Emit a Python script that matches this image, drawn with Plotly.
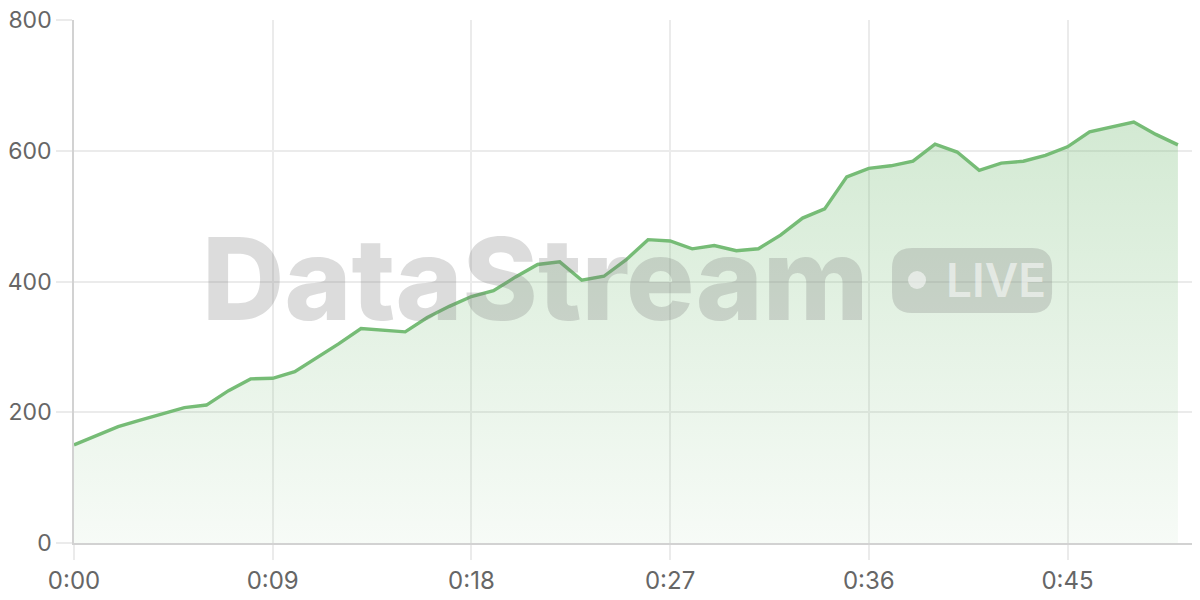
import plotly.graph_objects as go

# seconds since start, one sample per second
seconds = list(range(51))
values = [
    150, 164, 178, 188, 198, 207, 211, 233, 251, 252,
    262, 283, 305, 328, 325, 323, 345, 362, 377, 386,
    407, 426, 430, 402, 408, 433, 464, 462, 450, 455,
    447, 450, 471, 497, 511, 560, 573, 577, 584, 610,
    598, 570, 581, 584, 593, 606, 629, 637, 644, 625,
    609,
]
tick_vals = [0, 9, 18, 27, 36, 45]
tick_text = ["0:00", "0:09", "0:18", "0:27", "0:36", "0:45"]
y_ticks = [0, 200, 400, 600, 800]

GREEN = "rgb(118,188,118)"
GRID = "#ebebeb"
AXIS = "#d2d2d2"
WATERMARK = "rgba(120,120,120,0.26)"

fig = go.Figure(
    go.Scatter(
        x=seconds,
        y=values,
        mode="lines",
        line=dict(color=GREEN, width=3.4),
        fill="tozeroy",
        fillgradient=dict(
            type="vertical",
            start=0,
            stop=650,
            colorscale=[[0, "rgba(116,187,116,0.06)"], [1, "rgba(116,187,116,0.32)"]],
        ),
        hoverinfo="skip",
    )
)

# watermark: "DataStream" plus a rounded LIVE badge
bx0, bx1, by0, by1 = 0.7265, 0.8686, 0.44, 0.564
rx, ry = 0.0178, 0.0382
badge = (
    f"M {bx0 + rx},{by0} L {bx1 - rx},{by0} Q {bx1},{by0} {bx1},{by0 + ry} "
    f"L {bx1},{by1 - ry} Q {bx1},{by1} {bx1 - rx},{by1} "
    f"L {bx0 + rx},{by1} Q {bx0},{by1} {bx0},{by1 - ry} "
    f"L {bx0},{by0 + ry} Q {bx0},{by0} {bx0 + rx},{by0} Z"
)
fig.add_shape(type="path", path=badge, xref="paper", yref="paper",
              fillcolor=WATERMARK, line=dict(width=0), layer="above")
fig.add_shape(type="circle", xref="paper", yref="paper",
              x0=0.7407, x1=0.7567, y0=0.4857, y1=0.52,
              fillcolor="rgba(255,255,255,0.55)", line=dict(width=0), layer="above")
fig.add_annotation(text="LIVE", xref="paper", yref="paper", x=0.8185, y=0.502,
                   xanchor="center", yanchor="middle", showarrow=False,
                   font=dict(family="Inter", size=46, weight=600,
                             color="rgba(255,255,255,0.55)"))
fig.add_annotation(text="DataStream", xref="paper", yref="paper", x=0.409, y=0.505,
                   xanchor="center", yanchor="middle", showarrow=False,
                   font=dict(family="Inter", size=114, weight=800, color=WATERMARK))

axis_common = dict(
    showgrid=True,
    gridcolor=GRID,
    gridwidth=1.5,
    zeroline=False,
    showline=True,
    linecolor=AXIS,
    linewidth=1.5,
    ticks="outside",
    tickcolor=GRID,
    tickwidth=1.5,
    automargin=False,
    ticklabeloverflow="allow",
)

# the page body adds an 8px offset, so the figure is 8px smaller than the window
fig.update_layout(
    width=1192,
    height=592,
    margin=dict(l=66, r=0, t=12, b=57),
    paper_bgcolor="white",
    plot_bgcolor="white",
    showlegend=False,
    xaxis=dict(range=[0, 51], tickvals=tick_vals, ticktext=tick_text, ticklen=15,
               tickfont=dict(family="Inter", size=24, color="#666666"), **axis_common),
    yaxis=dict(range=[0, 800], tickvals=y_ticks, ticklen=16,
               tickfont=dict(family="Inter", size=23, color="#666666"), **axis_common),
)

fig.write_html("out.html")
